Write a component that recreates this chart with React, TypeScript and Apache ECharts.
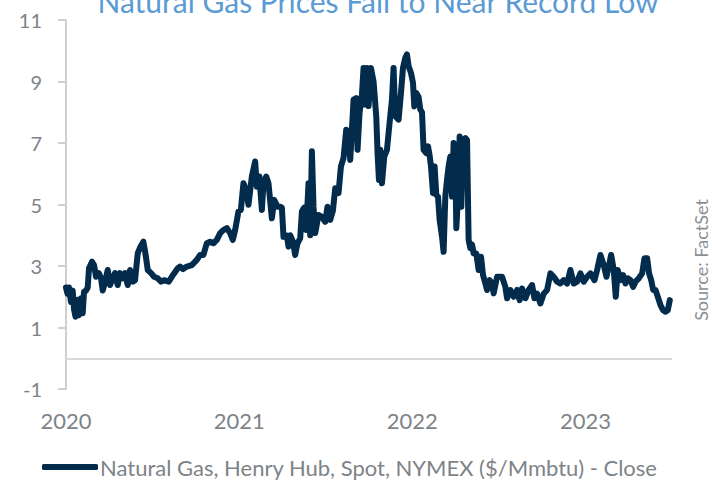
import React, { useEffect, useRef } from "react";
import * as echarts from "echarts";

const title = "Natural Gas Prices Fall to Near Record Low";
const seriesName = "Natural Gas, Henry Hub, Spot, NYMEX ($/Mmbtu) - Close";
const sourceText = "Source: FactSet";

const yTicks = { min: -1, max: 11, interval: 2 };
const xRange = { min: 2020, max: 2023.5, interval: 1 };

// Fractional-year dates
const dates = [
  2020.0, 2020.0087, 2020.0173, 2020.0289, 2020.0387, 2020.0462, 2020.0549, 2020.0676, 2020.0751, 2020.0867,
  2020.0965, 2020.104, 2020.1156, 2020.1254, 2020.1329, 2020.1503, 2020.1618, 2020.1734, 2020.189, 2020.2023,
  2020.2121, 2020.2254, 2020.241, 2020.2543, 2020.2699, 2020.2832, 2020.2988, 2020.3121, 2020.3277, 2020.341,
  2020.3566, 2020.3699, 2020.3855, 2020.3988, 2020.4145, 2020.4277, 2020.4468, 2020.4584, 2020.4723, 2020.4913,
  2020.5087, 2020.5301, 2020.5491, 2020.5665, 2020.5936, 2020.6168, 2020.6457, 2020.659, 2020.6763, 2020.6977,
  2020.7266, 2020.7555, 2020.7746, 2020.7936, 2020.8133, 2020.8324, 2020.8514, 2020.8711, 2020.8902, 2020.9092,
  2020.9289, 2020.948, 2020.9636, 2020.9769, 2020.996, 2021.0098, 2021.0249, 2021.0405, 2021.0538, 2021.0734,
  2021.0925, 2021.1023, 2021.1173, 2021.1312, 2021.1405, 2021.1561, 2021.1694, 2021.189, 2021.2023, 2021.2214,
  2021.237, 2021.2468, 2021.2561, 2021.2757, 2021.285, 2021.2948, 2021.3104, 2021.3237, 2021.337, 2021.3526,
  2021.3624, 2021.3757, 2021.3873, 2021.4006, 2021.4104, 2021.4202, 2021.4295, 2021.4393, 2021.4584, 2021.478,
  2021.4971, 2021.5104, 2021.526, 2021.5416, 2021.5549, 2021.574, 2021.5879, 2021.6029, 2021.6185, 2021.6318,
  2021.6416, 2021.6514, 2021.6607, 2021.6763, 2021.6838, 2021.6954, 2021.7092, 2021.7185, 2021.7283, 2021.7382,
  2021.7474, 2021.7613, 2021.7763, 2021.7919, 2021.7994, 2021.8075, 2021.815, 2021.8249, 2021.8382, 2021.8538,
  2021.8688, 2021.8827, 2021.8919, 2021.9017, 2021.9208, 2021.9347, 2021.9462, 2021.9595, 2021.9694, 2021.9786,
  2021.9925, 2022.004, 2022.0116, 2022.0231, 2022.0364, 2022.0462, 2022.0561, 2022.0653, 2022.0809, 2022.0908,
  2022.1, 2022.1081, 2022.1197, 2022.1289, 2022.1387, 2022.1486, 2022.1578, 2022.1717, 2022.1809, 2022.1908,
  2022.2006, 2022.2098, 2022.2197, 2022.2295, 2022.2387, 2022.2486, 2022.2543, 2022.2642, 2022.2734, 2022.2832,
  2022.2931, 2022.3064, 2022.3162, 2022.3254, 2022.3353, 2022.3451, 2022.3543, 2022.3699, 2022.3832, 2022.3971,
  2022.4087, 2022.422, 2022.4318, 2022.4468, 2022.4607, 2022.4699, 2022.4896, 2022.5185, 2022.5376, 2022.5474,
  2022.5665, 2022.5855, 2022.6052, 2022.6202, 2022.6341, 2022.6532, 2022.6723, 2022.6919, 2022.7052, 2022.7208,
  2022.7399, 2022.759, 2022.7786, 2022.7977, 2022.8168, 2022.8364, 2022.8555, 2022.8746, 2022.8942, 2022.9133,
  2022.9324, 2022.952, 2022.9711, 2022.9902, 2023.0098, 2023.0289, 2023.052, 2023.0676, 2023.0867, 2023.1058,
  2023.1214, 2023.1347, 2023.1486, 2023.1636, 2023.1751, 2023.1867, 2023.2023, 2023.2179, 2023.2312, 2023.2445,
  2023.2601, 2023.2757, 2023.289, 2023.3081, 2023.3277, 2023.341, 2023.3566, 2023.3676, 2023.3798, 2023.3913,
  2023.4046, 2023.4179, 2023.4335, 2023.4491, 2023.4624, 2023.4757, 2023.4873,
];

// Close prices ($/Mmbtu)
const prices = [
  2.3, 2.1, 2.3, 1.83, 2.2, 1.6, 1.35, 1.9, 1.4, 1.95,
  1.46, 2.16, 2.2, 2.3, 2.93, 3.14, 3.03, 2.65, 2.77, 2.6,
  2.2, 2.49, 2.87, 2.38, 2.6, 2.77, 2.38, 2.77, 2.6, 2.77,
  2.38, 2.87, 2.49, 2.54, 3.42, 3.6, 3.79, 3.42, 2.87, 2.77,
  2.65, 2.6, 2.49, 2.54, 2.49, 2.7, 2.93, 2.98, 2.9, 2.98,
  3.03, 3.2, 3.36, 3.36, 3.74, 3.79, 3.74, 3.85, 4.07, 4.17,
  4.23, 4.07, 3.85, 4.17, 4.77, 4.82, 5.69, 5.48, 4.99, 5.91,
  6.4, 5.58, 5.91, 4.82, 5.69, 5.91, 5.69, 4.55, 5.15, 4.93,
  4.93, 4.9, 3.95, 3.99, 3.63, 4.0, 3.8, 3.36, 3.74, 3.9,
  4.77, 4.9, 4.17, 5.69, 4.0, 6.73, 4.93, 4.07, 4.66, 4.6,
  4.44, 4.93, 4.5, 4.8, 5.53, 5.37, 6.24, 6.51, 7.43, 7.21,
  6.45, 7.43, 8.41, 8.46, 6.78, 7.98, 8.57, 9.44, 8.25, 9.44,
  8.2, 9.44, 9.0, 7.87, 6.67, 5.8, 6.78, 5.69, 6.56, 6.78,
  7.65, 8.41, 9.44, 7.87, 7.76, 8.63, 9.44, 9.77, 9.88, 9.5,
  9.28, 8.96, 8.19, 8.63, 8.5, 8.09, 8.0, 6.78, 6.67, 6.89,
  6.6, 6.24, 5.37, 6.24, 5.31, 5.25, 4.5, 3.95, 3.46, 5.26,
  5.8, 6.24, 6.56, 5.26, 7.0, 6.4, 4.23, 5.26, 7.21, 4.93,
  7.1, 7.16, 7.1, 3.85, 3.58, 3.7, 3.41, 3.41, 2.87, 3.3,
  2.7, 2.43, 2.22, 2.54, 2.43, 2.11, 2.65, 2.65, 2.32, 1.95,
  2.22, 2.0, 2.22, 1.89, 2.27, 1.95, 2.22, 2.38, 1.95, 2.1,
  1.78, 2.1, 2.22, 2.76, 2.65, 2.49, 2.43, 2.54, 2.43, 2.87,
  2.43, 2.49, 2.76, 2.49, 2.65, 2.76, 2.54, 2.87, 3.36, 3.03,
  2.65, 2.98, 3.36, 2.87, 2.0, 2.87, 2.54, 2.7, 2.43, 2.6,
  2.54, 2.32, 2.49, 2.6, 2.76, 3.25, 3.25, 2.76, 2.54, 2.22,
  2.22, 2.0, 1.73, 1.56, 1.51, 1.56, 1.89,
];

const FONT = "Lato";
const GRAY = "#7d8387";
const NAVY = "#022b4c";

export default function App() {
  const ref = useRef<HTMLDivElement>(null);

  useEffect(() => {
    if (!ref.current) return;
    const chart = echarts.init(ref.current, null, { renderer: "svg" });
    const data = dates.map((d, i) => [d, prices[i]]);
    chart.setOption({
      animation: false,
      backgroundColor: "#ffffff",
      textStyle: { fontFamily: FONT },
      grid: { left: 66, right: 40, top: 20, bottom: 91, containLabel: false },
      xAxis: {
        type: "value",
        min: xRange.min,
        max: xRange.max,
        interval: xRange.interval,
        axisLine: { show: false },
        axisTick: { show: false },
        splitLine: { show: false },
        axisLabel: {
          color: GRAY,
          fontFamily: FONT,
          fontSize: 22,
          margin: 20,
          showMaxLabel: false,
          formatter: (v: number) => (Number.isInteger(v) ? String(v) : ""),
        },
      },
      yAxis: {
        type: "value",
        min: yTicks.min,
        max: yTicks.max,
        interval: yTicks.interval,
        axisLine: { show: true, lineStyle: { color: "#cfcfcf", width: 2 } },
        axisTick: { show: true, length: 8, lineStyle: { color: "#cfcfcf", width: 2 } },
        splitLine: { show: false },
        axisLabel: { color: GRAY, fontFamily: FONT, fontSize: 20, margin: 24 },
      },
      legend: {
        show: true,
        left: 42,
        top: 456,
        padding: 0,
        icon: "roundRect",
        itemWidth: 56,
        itemHeight: 6,
        textStyle: { color: GRAY, fontFamily: FONT, fontSize: 22, padding: [0, 0, 0, -3] },
        data: [seriesName],
      },
      graphic: [
        {
          type: "text",
          x: 378,
          y: 1,
          style: {
            text: title,
            fill: "#5b9bd5",
            font: `30px ${FONT}`,
            textAlign: "center",
            textVerticalAlign: "middle",
          },
        },
        {
          type: "text",
          x: 701,
          y: 260,
          rotation: Math.PI / 2,
          style: {
            text: sourceText,
            fill: "#8a9094",
            font: `18px ${FONT}`,
            textAlign: "center",
            textVerticalAlign: "middle",
          },
        },
      ],
      series: [
        {
          name: seriesName,
          type: "line",
          data,
          showSymbol: false,
          symbol: "none",
          itemStyle: { color: NAVY },
          lineStyle: { color: NAVY, width: 6, join: "round", cap: "round" },
          markLine: {
            silent: true,
            symbol: "none",
            label: { show: false },
            lineStyle: { color: "#d9d9d9", width: 2, type: "solid" },
            data: [{ yAxis: 0 }],
          },
          z: 3,
        },
      ],
    });
    return () => chart.dispose();
  }, []);

  return (
    <div
      ref={ref}
      style={{ position: "absolute", left: 0, top: 0, width: 712, height: 480 }}
    />
  );
}
